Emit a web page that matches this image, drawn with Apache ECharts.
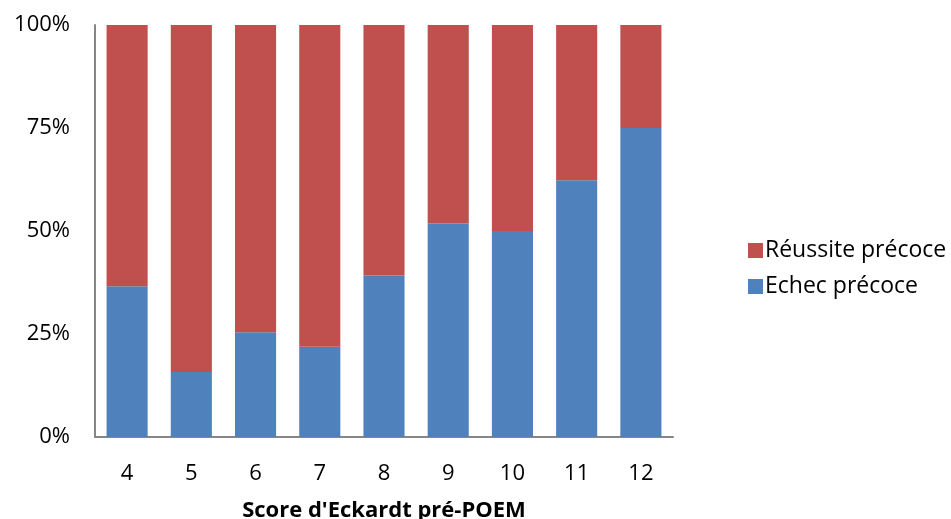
<!DOCTYPE html>
<html><head><meta charset="utf-8">
<script src="https://cdn.jsdelivr.net/npm/echarts@6/dist/echarts.min.js"></script>
<style>html,body{margin:0;padding:0;background:#fff}#c{width:951px;height:519px}</style>
</head><body><div id="c"></div>
<script>
const categories = ['4','5','6','7','8','9','10','11','12'];
const echec = [36.6, 15.8, 25.4, 21.9, 39.2, 51.8, 50.0, 62.3, 75.0];
const reussite = [63.4, 84.2, 74.6, 78.1, 60.8, 48.2, 50.0, 37.7, 25.0];
const yTicks = [0, 25, 50, 75, 100];

const font = 'Open Sans';
const chart = echarts.init(document.getElementById('c'));
chart.setOption({
  animation: false,
  textStyle: {fontFamily: font},
  grid: {left: 95, top: 25, right: 278, bottom: 82, containLabel: false, outerBoundsMode: 'none'},
  legend: {
    orient: 'vertical', left: 743, top: 234,
    itemWidth: 15, itemHeight: 15, itemGap: 13,
    icon: 'rect',
    data: ['Réussite précoce', 'Echec précoce'],
    textStyle: {fontFamily: font, fontSize: 23, lineHeight: 22, color: '#000', padding: [0,0,0,-3]}
  },
  xAxis: {
    type: 'category', data: categories,
    name: "Score d'Eckardt pré-POEM", nameLocation: 'middle', nameGap: 63,
    nameTextStyle: {fontFamily: font, fontSize: 22, fontWeight: 'bold', color: '#000'},
    axisLine: {lineStyle: {color: '#868686', width: 2}},
    axisTick: {show: false},
    axisLabel: {fontSize: 22, color: '#000', margin: 26, fontFamily: font}
  },
  yAxis: {
    type: 'value', min: 0, max: 100, interval: 25,
    axisLine: {show: true, lineStyle: {color: '#868686', width: 2}},
    axisTick: {show: false},
    splitLine: {show: false},
    axisLabel: {fontSize: 22, color: '#000', margin: 25, fontFamily: font,
      formatter: v => yTicks.includes(v) ? v + '%' : ''}
  },
  series: [
    {name: 'Echec précoce', type: 'bar', stack: 's', data: echec, barCategoryGap: '36%',
     itemStyle: {color: '#4F81BD'}},
    {name: 'Réussite précoce', type: 'bar', stack: 's', data: reussite,
     itemStyle: {color: '#C0504D'}}
  ]
});
</script></body></html>
